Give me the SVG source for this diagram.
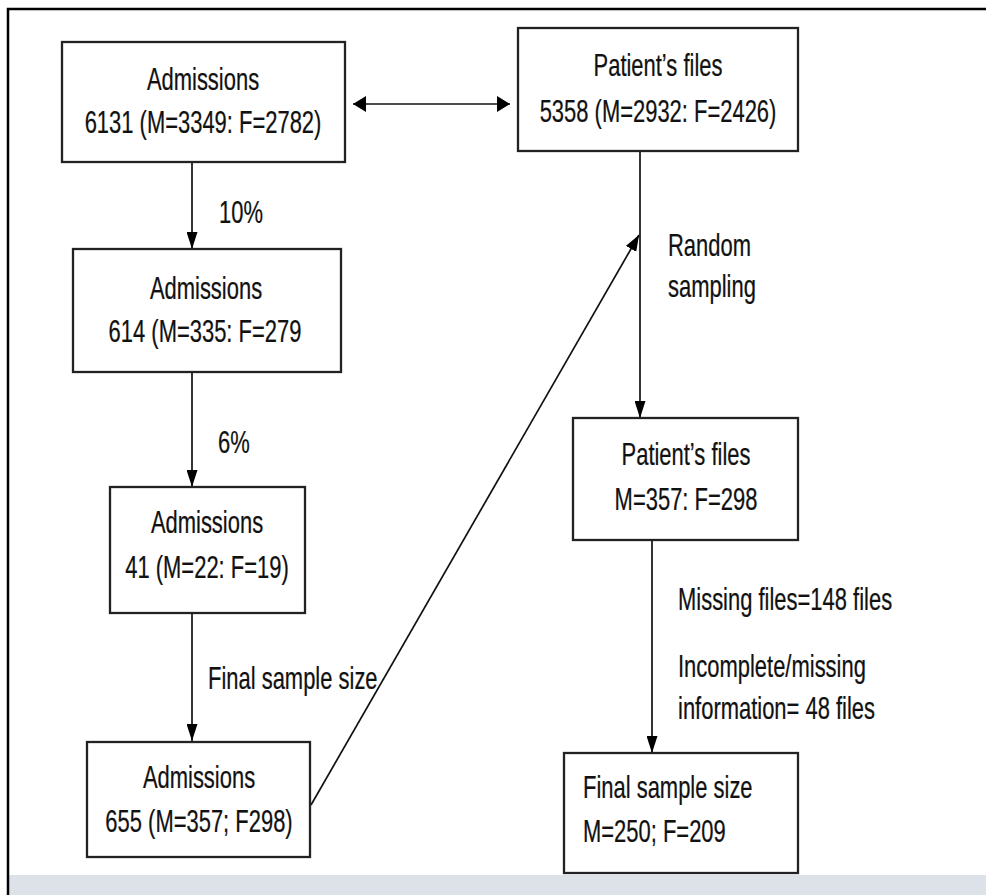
<svg xmlns="http://www.w3.org/2000/svg" width="986" height="895" viewBox="0 0 986 895">
<defs>
<marker id="av" viewBox="0 0 17 11" refX="17" refY="5.5" markerWidth="17" markerHeight="11" markerUnits="userSpaceOnUse" orient="auto-start-reverse">
<path d="M0,0 L17,5.5 L0,11 z" fill="#000"/>
</marker>
<marker id="ah" viewBox="0 0 13 16" refX="13" refY="8" markerWidth="13" markerHeight="16" markerUnits="userSpaceOnUse" orient="auto-start-reverse">
<path d="M0,0 L13,8 L0,16 z" fill="#000"/>
</marker>
<marker id="ad" viewBox="0 0 16 12" refX="16" refY="6" markerWidth="16" markerHeight="12" markerUnits="userSpaceOnUse" orient="auto">
<path d="M0,0 L16,6 L0,12 z" fill="#000"/>
</marker>
<style>
.box{fill:#fff;stroke:#222;stroke-width:2.3}
.t{font-family:"Liberation Sans",Arial,sans-serif;font-size:30.5px;fill:#111;stroke:#111;stroke-width:0.25}
.c{text-anchor:middle}
.ln{fill:none;stroke:#111;stroke-width:1.7}
</style>
</defs>
<rect x="0" y="0" width="986" height="895" fill="#fff"/>
<rect x="9" y="875" width="977" height="20" fill="#dde1e8"/>
<path d="M8,895 V9 H986" fill="none" stroke="#000" stroke-width="2.5"/>

<g id="connectors">
<line class="ln" x1="353" y1="104" x2="510" y2="104" marker-start="url(#ah)" marker-end="url(#ah)"/>
<line class="ln" x1="192" y1="163" x2="192" y2="249" marker-end="url(#av)"/>
<line class="ln" x1="192" y1="373" x2="192" y2="487" marker-end="url(#av)"/>
<line class="ln" x1="192" y1="614" x2="192" y2="741" marker-end="url(#av)" stroke-width="1.1"/>
<line class="ln" x1="640" y1="152" x2="640" y2="418" marker-end="url(#av)"/>
<line class="ln" x1="311" y1="805" x2="639" y2="235" marker-end="url(#ad)"/>
<line class="ln" x1="652" y1="541" x2="652" y2="753" marker-end="url(#av)"/>
<text class="t" transform="translate(219,223) scale(0.72,1)">10%</text>
<text class="t" transform="translate(218,453) scale(0.72,1)">6%</text>
<text class="t" transform="translate(208,689) scale(0.72,1)">Final sample size</text>
<text class="t" transform="translate(668,256) scale(0.72,1)">Random</text>
<text class="t" transform="translate(668,297) scale(0.72,1)">sampling</text>
<text class="t" transform="translate(678,610) scale(0.72,1)">Missing files=148 files</text>
<text class="t" transform="translate(678,677) scale(0.72,1)">Incomplete/missing</text>
<text class="t" transform="translate(678,719) scale(0.72,1)">information= 48 files</text>
</g>

<g id="adm1">
<rect class="box" x="62" y="42" width="283" height="120"/>
<text class="t c" transform="translate(203,90) scale(0.72,1)">Admissions</text>
<text class="t c" transform="translate(203,133) scale(0.72,1)">6131 (M=3349: F=2782)</text>
</g>
<g id="files1">
<rect class="box" x="518" y="28" width="280" height="123"/>
<text class="t c" transform="translate(658,76) scale(0.72,1)">Patient’s files</text>
<text class="t c" transform="translate(658,122) scale(0.72,1)">5358 (M=2932: F=2426)</text>
</g>
<g id="adm2">
<rect class="box" x="73" y="249" width="268" height="123"/>
<text class="t c" transform="translate(206,299) scale(0.72,1)">Admissions</text>
<text class="t c" transform="translate(205,342) scale(0.72,1)">614 (M=335: F=279</text>
</g>
<g id="adm3">
<rect class="box" x="110" y="487" width="195" height="126"/>
<text class="t c" transform="translate(207,533) scale(0.72,1)">Admissions</text>
<text class="t c" transform="translate(207,578) scale(0.72,1)">41 (M=22: F=19)</text>
</g>
<g id="adm4">
<rect class="box" x="87" y="742" width="223" height="115"/>
<text class="t c" transform="translate(199,788) scale(0.72,1)">Admissions</text>
<text class="t c" transform="translate(199,832) scale(0.72,1)">655 (M=357; F298)</text>
</g>
<g id="files2">
<rect class="box" x="573" y="418" width="225" height="122"/>
<text class="t c" transform="translate(686,465) scale(0.72,1)">Patient’s files</text>
<text class="t c" transform="translate(686,510) scale(0.72,1)">M=357: F=298</text>
</g>
<g id="final">
<rect class="box" x="564" y="753" width="234" height="120"/>
<text class="t" transform="translate(583,798) scale(0.72,1)">Final sample size</text>
<text class="t" transform="translate(583,842) scale(0.72,1)">M=250; F=209</text>
</g>
</svg>
